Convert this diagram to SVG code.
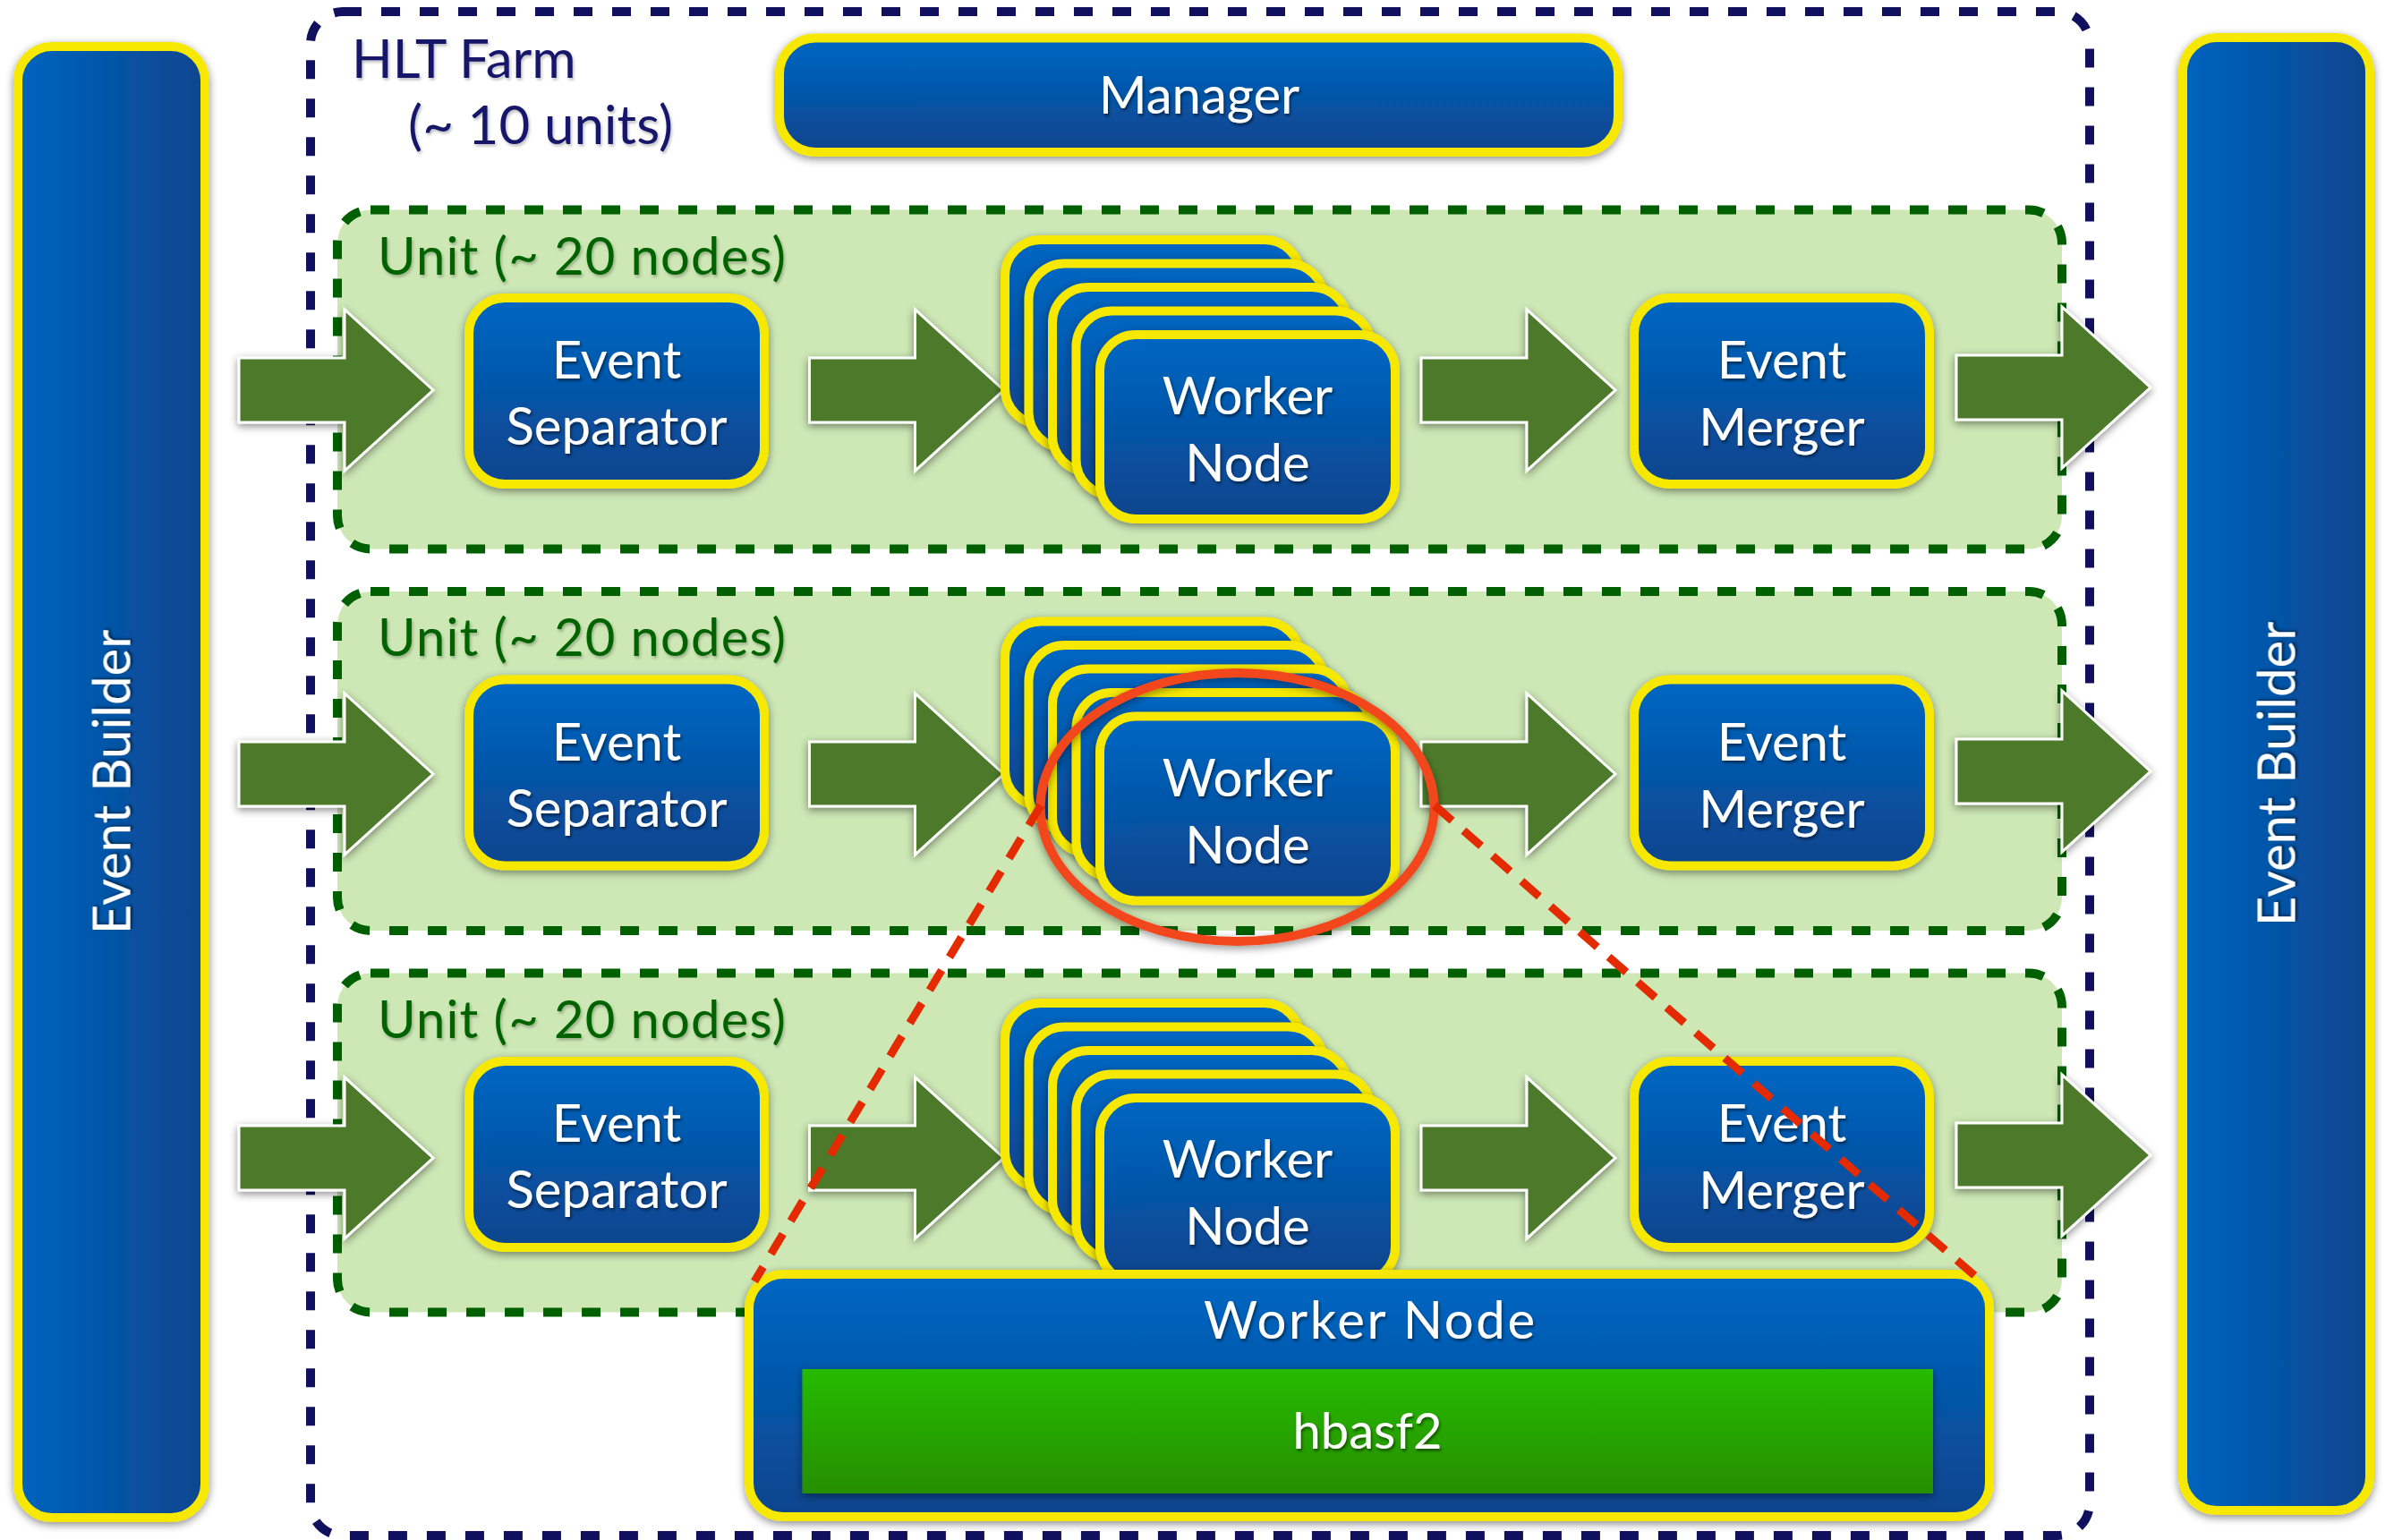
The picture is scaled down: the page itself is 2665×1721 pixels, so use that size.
<svg xmlns="http://www.w3.org/2000/svg" xmlns:xlink="http://www.w3.org/1999/xlink" width="2665" height="1721" viewBox="0 0 2665 1721">
  <defs>
    <linearGradient id="blueV" x1="0" y1="0" x2="0" y2="1">
      <stop offset="0" stop-color="#0067c3"/>
      <stop offset="1" stop-color="#0b448d"/>
    </linearGradient>
    <linearGradient id="blueH" x1="0" y1="0" x2="1" y2="0">
      <stop offset="0" stop-color="#0064be"/>
      <stop offset="1" stop-color="#0b458f"/>
    </linearGradient>
    <linearGradient id="greenV" x1="0" y1="0" x2="0" y2="1">
      <stop offset="0" stop-color="#26bb00"/>
      <stop offset="1" stop-color="#288e00"/>
    </linearGradient>
    <filter id="shadow" x="-20%" y="-20%" width="140%" height="140%">
      <feDropShadow dx="0" dy="3" stdDeviation="5" flood-color="#000" flood-opacity="0.45"/>
    </filter>
    <filter id="tshadow" x="-10%" y="-20%" width="120%" height="150%">
      <feDropShadow dx="1.5" dy="2.5" stdDeviation="1.5" flood-color="#000" flood-opacity="0.5"/>
    </filter>
    <filter id="tshadowLight" x="-10%" y="-20%" width="120%" height="150%">
      <feDropShadow dx="1.5" dy="2.5" stdDeviation="1.5" flood-color="#000" flood-opacity="0.25"/>
    </filter>
    <path id="arrowShape" d="M0,-36 H118 V-90 L217,0 L118,90 V36 H0 Z"/>
    <style>
      .box { fill: url(#blueV); stroke: #f6e800; stroke-width: 10; filter: url(#shadow); }
      .bar { fill: url(#blueH); stroke: #f6e800; stroke-width: 10; filter: url(#shadow); }
      .lbl { font-family: Lato, "Liberation Sans", sans-serif; font-size: 58px; fill: #ffffff; text-anchor: middle; filter: url(#tshadow); }
      .farm { fill: none; stroke: #10105f; stroke-width: 10; stroke-dasharray: 21 22; }
      .unit { fill: #cde7b5; stroke: #005f00; stroke-width: 10; stroke-dasharray: 21 22; }
      .unitLbl { font-family: Lato, "Liberation Sans", sans-serif; font-size: 58px; fill: #066306; filter: url(#tshadowLight); }
      .farmLbl { font-family: Lato, "Liberation Sans", sans-serif; font-size: 60px; fill: #15156a; filter: url(#tshadowLight); }
      .arrow { fill: #4e7a2c; stroke: #ffffff; stroke-width: 3; filter: url(#shadow); }
      .ring { fill: none; stroke: #f2461a; stroke-width: 10; filter: url(#shadow); }
      .callout { fill: none; stroke: #e32a00; stroke-width: 9; stroke-dasharray: 26 17; }
    </style>
  </defs>

  <rect width="2665" height="1721" fill="#ffffff"/>

  <!-- HLT farm frame -->
  <g id="hlt-farm">
    <rect class="farm" x="347" y="13" width="1988" height="1703" rx="36"/>
    <text class="farmLbl" x="393" y="87">HLT Farm</text>
    <text class="farmLbl" x="456" y="161" textLength="296" lengthAdjust="spacing">(~ 10 units)</text>
  </g>

  <!-- event builders on both sides -->
  <g id="event-builder-in">
    <rect class="bar" x="20" y="52" width="209" height="1644" rx="38"/>
    <text class="lbl" transform="translate(124.5,874) rotate(-90)" y="21">Event Builder</text>
  </g>
  <g id="event-builder-out">
    <rect class="bar" x="2439" y="42" width="209" height="1646" rx="38"/>
    <text class="lbl" transform="translate(2543.5,865) rotate(-90)" y="21">Event Builder</text>
  </g>

  <!-- manager -->
  <g id="manager">
    <rect class="box" x="871" y="42.5" width="937" height="127.5" rx="40"/>
    <text class="lbl" x="1340" y="127">Manager</text>
  </g>

  <!-- processing units -->
  <g id="unit-1">
    <rect class="unit" x="377" y="234.5" width="1927" height="379" rx="37"/>
    <text class="unitLbl" x="422" y="306.5" textLength="456" lengthAdjust="spacing">Unit (~ 20 nodes)</text>
  </g>
  <g id="unit-2">
    <rect class="unit" x="377" y="661" width="1927" height="379" rx="37"/>
    <text class="unitLbl" x="422" y="733" textLength="456" lengthAdjust="spacing">Unit (~ 20 nodes)</text>
  </g>
  <g id="unit-3">
    <rect class="unit" x="377" y="1087.5" width="1927" height="379" rx="37"/>
    <text class="unitLbl" x="422" y="1159.5" textLength="456" lengthAdjust="spacing">Unit (~ 20 nodes)</text>
  </g>

  <!-- data flow arrows -->
  <g id="connectors">
    <use xlink:href="#arrowShape" href="#arrowShape" class="arrow" x="267" y="436"/>
    <use xlink:href="#arrowShape" href="#arrowShape" class="arrow" x="904.5" y="436"/>
    <use xlink:href="#arrowShape" href="#arrowShape" class="arrow" x="1588" y="436"/>
    <use xlink:href="#arrowShape" href="#arrowShape" class="arrow" x="2186" y="433"/>

    <use xlink:href="#arrowShape" href="#arrowShape" class="arrow" x="267" y="865"/>
    <use xlink:href="#arrowShape" href="#arrowShape" class="arrow" x="904.5" y="865"/>
    <use xlink:href="#arrowShape" href="#arrowShape" class="arrow" x="1588" y="865"/>
    <use xlink:href="#arrowShape" href="#arrowShape" class="arrow" x="2186" y="862"/>

    <use xlink:href="#arrowShape" href="#arrowShape" class="arrow" x="267" y="1294"/>
    <use xlink:href="#arrowShape" href="#arrowShape" class="arrow" x="904.5" y="1294"/>
    <use xlink:href="#arrowShape" href="#arrowShape" class="arrow" x="1588" y="1294"/>
    <use xlink:href="#arrowShape" href="#arrowShape" class="arrow" x="2186" y="1291"/>
  </g>

  <!-- row 1 -->
  <g id="separator-1">
    <rect class="box" x="524" y="333" width="330" height="208" rx="40"/>
    <text class="lbl" x="689" y="423">Event</text>
    <text class="lbl" x="689" y="497">Separator</text>
  </g>
  <g id="workers-1">
    <rect class="box" x="1123" y="268" width="330" height="206" rx="40"/>
    <rect class="box" x="1149.5" y="294.5" width="330" height="206" rx="40"/>
    <rect class="box" x="1176" y="321" width="330" height="206" rx="40"/>
    <rect class="box" x="1202.5" y="347.5" width="330" height="206" rx="40"/>
    <rect class="box" x="1229" y="374" width="330" height="206" rx="40"/>
    <text class="lbl" x="1394" y="463">Worker</text>
    <text class="lbl" x="1394" y="538">Node</text>
  </g>
  <g id="merger-1">
    <rect class="box" x="1826" y="333" width="330" height="208" rx="40"/>
    <text class="lbl" x="1991" y="423">Event</text>
    <text class="lbl" x="1991" y="498">Merger</text>
  </g>

  <!-- row 2 -->
  <g id="separator-2">
    <rect class="box" x="524" y="759.5" width="330" height="208" rx="40"/>
    <text class="lbl" x="689" y="849.5">Event</text>
    <text class="lbl" x="689" y="923.5">Separator</text>
  </g>
  <g id="workers-2">
    <rect class="box" x="1123" y="694.5" width="330" height="206" rx="40"/>
    <rect class="box" x="1149.5" y="721" width="330" height="206" rx="40"/>
    <rect class="box" x="1176" y="747.5" width="330" height="206" rx="40"/>
    <rect class="box" x="1202.5" y="774" width="330" height="206" rx="40"/>
    <rect class="box" x="1229" y="800.5" width="330" height="206" rx="40"/>
    <text class="lbl" x="1394" y="889.5">Worker</text>
    <text class="lbl" x="1394" y="964.5">Node</text>
  </g>
  <g id="merger-2">
    <rect class="box" x="1826" y="759.5" width="330" height="208" rx="40"/>
    <text class="lbl" x="1991" y="849.5">Event</text>
    <text class="lbl" x="1991" y="924.5">Merger</text>
  </g>

  <!-- row 3 -->
  <g id="separator-3">
    <rect class="box" x="524" y="1186" width="330" height="208" rx="40"/>
    <text class="lbl" x="689" y="1276">Event</text>
    <text class="lbl" x="689" y="1350">Separator</text>
  </g>
  <g id="workers-3">
    <rect class="box" x="1123" y="1121" width="330" height="206" rx="40"/>
    <rect class="box" x="1149.5" y="1147.5" width="330" height="206" rx="40"/>
    <rect class="box" x="1176" y="1174" width="330" height="206" rx="40"/>
    <rect class="box" x="1202.5" y="1200.5" width="330" height="206" rx="40"/>
    <rect class="box" x="1229" y="1227" width="330" height="206" rx="40"/>
    <text class="lbl" x="1394" y="1316">Worker</text>
    <text class="lbl" x="1394" y="1391">Node</text>
  </g>
  <g id="merger-3">
    <rect class="box" x="1826" y="1186" width="330" height="208" rx="40"/>
    <text class="lbl" x="1991" y="1276">Event</text>
    <text class="lbl" x="1991" y="1351">Merger</text>
  </g>

  <!-- highlight ring around one worker stack -->
  <g id="highlight">
    <ellipse class="ring" cx="1382.5" cy="902" rx="220" ry="150"/>
  </g>

  <!-- detailed worker node -->
  <g id="worker-detail">
    <rect class="box" x="837" y="1424" width="1386" height="271" rx="38"/>
    <text class="lbl" x="1530" y="1496" textLength="370" lengthAdjust="spacing">Worker Node</text>
    <rect x="896.5" y="1530" width="1263.5" height="139" fill="url(#greenV)" filter="url(#shadow)"/>
    <text class="lbl" x="1528" y="1619" style="font-size:56px">hbasf2</text>
  </g>

  <!-- callout lines from the ring to the detailed node -->
  <g id="callout">
    <line class="callout" x1="1163" y1="900" x2="843" y2="1432"/>
    <line class="callout" x1="1603" y1="900" x2="2207" y2="1426"/>
  </g>
</svg>
